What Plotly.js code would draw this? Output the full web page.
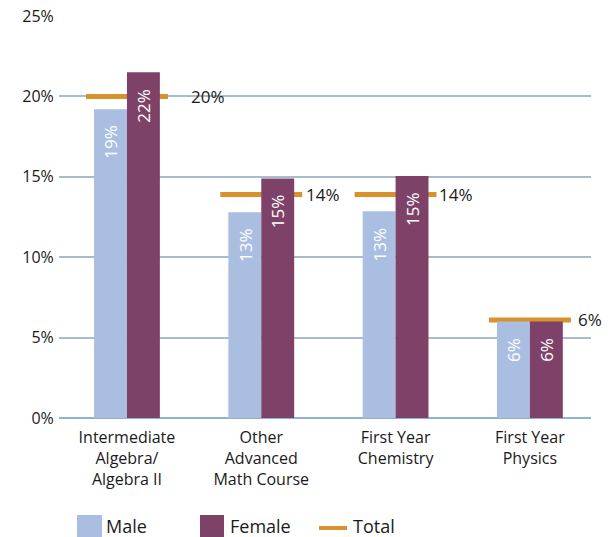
<!DOCTYPE html>
<html>
<head>
<meta charset="utf-8">
<script src="https://cdn.plot.ly/plotly-3.0.1.min.js"></script>
<style>
  html, body { margin: 0; padding: 0; background: #ffffff; }
  #chart { width: 616px; height: 537px; }
</style>
</head>
<body>
<div id="chart"></div>
<script>
// Course-taking rates by gender
const courses = [
  "Intermediate<br>Algebra/<br>Algebra II",
  "Other<br>Advanced<br>Math Course",
  "First Year<br>Chemistry",
  "First Year<br>Physics"
];
const maleValues   = [19.2, 12.8, 12.85, 6.0];
const femaleValues = [21.5, 14.9, 15.05, 6.0];
const totalValues  = [20.0, 13.9, 13.9, 6.1];

const seriesNames = ["Male", "Female", "Total"];
const yTickValues = [0, 5, 10, 15, 20, 25];
const yTickText = yTickValues.map(v => v + "%");

// colours
const MALE_COLOR = "#aabee1";
const FEMALE_COLOR = "#7e4268";
const TOTAL_COLOR = "#d9912b";
const GRID_COLOR = "#a9bccb";
const FONT = "Open Sans";

// plot area in pixels
const W = 616, H = 537;
const M = { l: 59, r: 25, t: 16, b: 119 };
const plotW = W - M.l - M.r;
const plotH = H - M.t - M.b;
const px = x => (x - M.l) / plotW;           // pixel x -> paper x
const py = y => (H - M.b - y) / plotH;       // pixel y -> paper y

// bar geometry (category units)
const BARGAP = 0.51;
const BAR_W = (1 - BARGAP) / 2;
// total marker half-width (category units) and label nudge (px)
const TOTAL_HALF = 0.305;
const totalLabelShift = [21, 2, 0, 5];

const catIdx = courses.map((_, i) => i);

function barTrace(name, values, color) {
  return {
    type: "bar",
    name: name,
    x: catIdx,
    y: values,
    marker: { color: color },
    hoverinfo: "skip",
    showlegend: false
  };
}

const traces = [
  barTrace(seriesNames[0], maleValues, MALE_COLOR),
  barTrace(seriesNames[1], femaleValues, FEMALE_COLOR)
];

// total markers: short horizontal bars between the grid and the columns
const shapes = totalValues.map((v, i) => ({
  type: "line", xref: "x", yref: "y", layer: "between",
  x0: i - TOTAL_HALF, x1: i + TOTAL_HALF, y0: v, y1: v,
  line: { color: TOTAL_COLOR, width: 5 }
}));

// value labels for the totals
const annotations = totalValues.map((v, i) => ({
  x: i + TOTAL_HALF, y: v, xref: "x", yref: "y",
  text: Math.round(v) + "%",
  showarrow: false,
  xanchor: "left", yanchor: "middle",
  xshift: totalLabelShift[i],
  font: { family: FONT, size: 17, color: "#1a1a1a" }
}));

// rotated value labels just inside the top of each column
[[maleValues, -1], [femaleValues, 1]].forEach(([vals, side]) => {
  vals.forEach((v, i) => {
    annotations.push({
      x: i + side * BAR_W / 2, y: v, xref: "x", yref: "y",
      text: Math.round(v) + "%",
      showarrow: false,
      textangle: -90,
      xanchor: "center", yanchor: "top",
      yshift: -14,
      font: { family: FONT, size: 17, color: "#ffffff" }
    });
  });
});

// legend drawn below the axis
const legendItems = [
  { kind: "box",  color: MALE_COLOR,   x0: 77,  x1: 102, tx: 104 },
  { kind: "box",  color: FEMALE_COLOR, x0: 200, x1: 224, tx: 228 },
  { kind: "line", color: TOTAL_COLOR,  x0: 319, x1: 347, tx: 351 }
];
legendItems.forEach((it, i) => {
  if (it.kind === "box") {
    shapes.push({
      type: "rect", xref: "paper", yref: "paper",
      x0: px(it.x0), x1: px(it.x1), y0: py(515), y1: py(538),
      fillcolor: it.color, line: { width: 0 }
    });
  } else {
    shapes.push({
      type: "line", xref: "paper", yref: "paper",
      x0: px(it.x0), x1: px(it.x1), y0: py(528), y1: py(528),
      line: { color: it.color, width: 4 }
    });
  }
  annotations.push({
    x: px(it.tx), y: py(526), xref: "paper", yref: "paper",
    text: seriesNames[i], showarrow: false,
    xanchor: "left", yanchor: "middle",
    font: { family: FONT, size: 18, color: "#1a1a1a" }
  });
});

const layout = {
  width: W, height: H,
  margin: M,
  paper_bgcolor: "#ffffff",
  plot_bgcolor: "#ffffff",
  font: { family: FONT, color: "#1a1a1a" },
  barmode: "group",
  bargap: BARGAP,
  bargroupgap: 0,
  showlegend: false,
  xaxis: {
    range: [-0.506, 3.455],
    tickvals: catIdx,
    ticktext: courses,
    showgrid: false,
    zeroline: false,
    showline: false,
    ticks: "outside",
    ticklen: 5,
    tickcolor: "rgba(0,0,0,0)",
    tickfont: { family: FONT, size: 16, color: "#1a1a1a" },
    fixedrange: true
  },
  yaxis: {
    range: [0, 25],
    tickvals: yTickValues,
    ticktext: yTickText,
    showgrid: true,
    gridcolor: GRID_COLOR,
    gridwidth: 2,
    zeroline: true,
    zerolinecolor: "#8fb2d0",
    zerolinewidth: 2,
    showline: false,
    ticks: "outside",
    ticklen: 1,
    tickcolor: "rgba(0,0,0,0)",
    tickfont: { family: FONT, size: 16, color: "#1a1a1a" },
    fixedrange: true
  },
  shapes: shapes,
  annotations: annotations
};

Plotly.newPlot("chart", traces, layout, { displayModeBar: false, staticPlot: true });
</script>
</body>
</html>
